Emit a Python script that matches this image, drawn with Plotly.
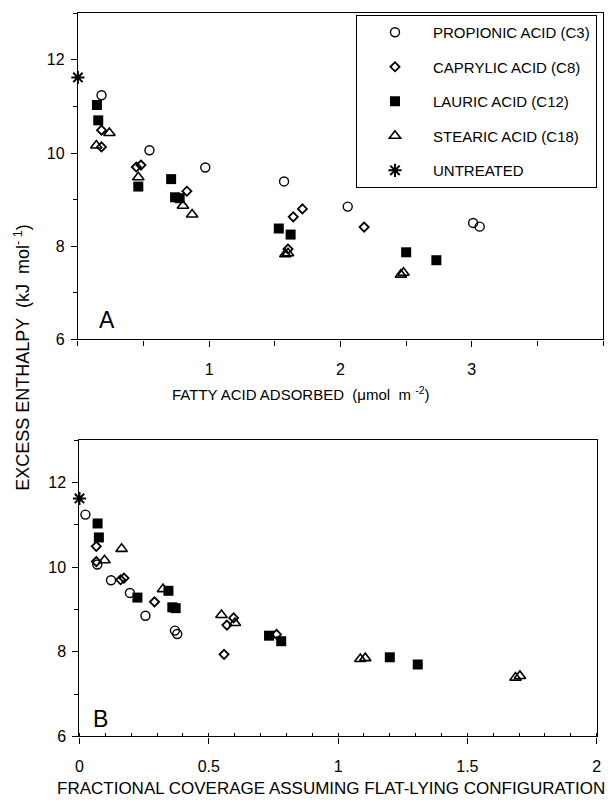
import plotly.graph_objects as go

FONT = "Liberation Sans, Arial, Helvetica, sans-serif"

series_names = ["PROPIONIC ACID (C3)", "CAPRYLIC ACID (C8)", "LAURIC ACID (C12)",
                "STEARIC ACID (C18)", "UNTREATED"]

# Propionic acid (C3)
c3_y = [11.24, 10.06, 9.69, 9.39, 8.85, 8.50, 8.42]
c3_xA = [0.18, 0.545, 0.97, 1.57, 2.055, 3.01, 3.06]
c3_xB = [0.023, 0.069, 0.122, 0.195, 0.255, 0.369, 0.378]

# Caprylic acid (C8)
c8_y = [10.49, 10.13, 9.70, 9.74, 9.18, 8.63, 8.80, 7.94, 8.41]
c8_xA = [0.18, 0.18, 0.445, 0.48, 0.83, 1.64, 1.71, 1.60, 2.18]
c8_xB = [0.065, 0.065, 0.159, 0.172, 0.29, 0.570, 0.596, 0.559, 0.762]

# Lauric acid (C12)
c12_y = [11.03, 10.70, 9.28, 9.44, 9.05, 9.03, 8.38, 8.25, 7.87, 7.70]
c12_xA = [0.145, 0.155, 0.46, 0.71, 0.74, 0.775, 1.53, 1.62, 2.50, 2.73]
c12_xB = [0.070, 0.075, 0.224, 0.344, 0.359, 0.372, 0.733, 0.780, 1.20, 1.308]

# Stearic acid (C18)
c18_y = [10.16, 10.43, 9.48, 8.87, 8.68, 7.83, 7.85, 7.39, 7.43]
c18_xA = [0.14, 0.24, 0.46, 0.80, 0.87, 1.58, 1.60, 2.46, 2.48]
c18_xB = [0.097, 0.163, 0.323, 0.549, 0.601, 1.086, 1.105, 1.686, 1.703]

# Untreated
un_y = [11.62]
un_xA = [0.0]
un_xB = [0.0]

styles = [
    dict(symbol="circle-open", size=9, color="black", line=dict(width=1.4, color="black")),
    dict(symbol="diamond-open", size=7, color="black", line=dict(width=1.8, color="black")),
    dict(symbol="square", size=10, color="black", line=dict(width=0, color="black")),
    dict(symbol="triangle-up-open", size=10, color="black", line=dict(width=1.6, color="black")),
    dict(symbol="asterisk-open", size=11, color="black", line=dict(width=2, color="black")),
]

data = [
    (c3_xA, c3_xB, c3_y),
    (c8_xA, c8_xB, c8_y),
    (c12_xA, c12_xB, c12_y),
    (c18_xA, c18_xB, c18_y),
    (un_xA, un_xB, un_y),
]

fig = go.Figure()
for i, (name, (xa, xb, yy), st) in enumerate(zip(series_names, data, styles)):
    fig.add_trace(go.Scatter(x=xa, y=yy, mode="markers", name=name, marker=st,
                             xaxis="x", yaxis="y", legendgroup=f"g{i}",
                             cliponaxis=False))
    fig.add_trace(go.Scatter(x=xb, y=yy, mode="markers", name=name, marker=st,
                             xaxis="x2", yaxis="y2", showlegend=False,
                             legendgroup=f"g{i}", cliponaxis=False))

W, H = 616, 807
def px_x(p):
    return p / W
def px_y(p):
    return 1 - p / H

axis_common = dict(showline=True, linecolor="black", linewidth=1.3, mirror=True,
                   showgrid=False, zeroline=False, ticks="outside", ticklen=6,
                   tickcolor="black", tickwidth=1.2,
                   tickfont=dict(family=FONT, size=16, color="black"))

fig.update_layout(
    width=W, height=H,
    margin=dict(l=0, r=0, t=0, b=0),
    paper_bgcolor="white", plot_bgcolor="white",
    font=dict(family=FONT, color="black"),
    xaxis=dict(domain=[px_x(75), px_x(608)], range=[0, 4], anchor="y",
               tickvals=[1, 2, 3], ticktext=["1", "2", "3"], ticklabelstandoff=9,
               minor=dict(dtick=0.5, tick0=0, ticks="outside", ticklen=5,
                          tickcolor="black", tickwidth=1.2),
               **axis_common),
    yaxis=dict(domain=[px_y(343.3), px_y(13.3)], range=[6, 13], anchor="x",
               tickvals=[6, 8, 10, 12], ticklabelstandoff=3,
               minor=dict(dtick=1, tick0=6, ticks="outside", ticklen=4,
                          tickcolor="black", tickwidth=1.2),
               **axis_common),
    xaxis2=dict(domain=[px_x(76.6), px_x(601.5)], range=[0, 2], anchor="y2",
                tickvals=[0, 0.5, 1, 1.5, 2], ticktext=["0", "0.5", "1", "1.5", "2"],
                ticklabelstandoff=9,
                minor=dict(dtick=0.1, tick0=0, ticks="inside", ticklen=3,
                           tickcolor="black", tickwidth=1.1),
                **axis_common),
    yaxis2=dict(domain=[px_y(744.8), px_y(445)], range=[6, 13], anchor="x2",
                tickvals=[6, 8, 10, 12], ticklabelstandoff=3,
                minor=dict(dtick=1, tick0=6, ticks="outside", ticklen=4,
                           tickcolor="black", tickwidth=1.2),
                **axis_common),
    showlegend=True,
    legend=dict(x=px_x(357), y=px_y(15), xanchor="left", yanchor="top",
                bordercolor="black", borderwidth=1.2, bgcolor="white",
                font=dict(family=FONT, size=15, color="black"),
                itemwidth=66, tracegroupgap=12, traceorder="grouped"),
)

annotations = [
    dict(text="A", x=0.22, y=6.41, xref="x", yref="y", showarrow=False,
         font=dict(family=FONT, size=23, color="black")),
    dict(text="B", x=0.082, y=6.42, xref="x2", yref="y2", showarrow=False,
         font=dict(family=FONT, size=23, color="black")),
    dict(text="EXCESS ENTHALPY  (kJ  mol<sup>- 1</sup>)", x=px_x(19), y=px_y(362),
         xref="paper", yref="paper", textangle=-90, showarrow=False,
         xanchor="center", yanchor="middle",
         font=dict(family=FONT, size=18, color="black")),
    dict(text="FATTY ACID ADSORBED  (μmol  m <sup>-2</sup>)", x=px_x(301), y=px_y(398),
         xref="paper", yref="paper", showarrow=False,
         xanchor="center", yanchor="middle",
         font=dict(family=FONT, size=15, color="black")),
    dict(text="FRACTIONAL COVERAGE ASSUMING FLAT-LYING CONFIGURATION",
         x=px_x(332), y=px_y(797), xref="paper", yref="paper", showarrow=False,
         xanchor="center", yanchor="middle",
         font=dict(family=FONT, size=17, color="black")),
]
fig.update_layout(annotations=annotations)

fig.write_html("out.html")
